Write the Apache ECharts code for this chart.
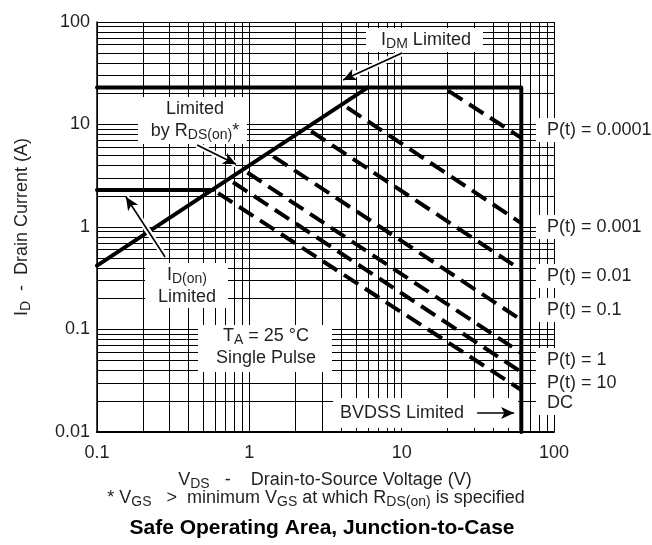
<!DOCTYPE html>
<html><head><meta charset="utf-8">
<script src="https://cdn.jsdelivr.net/npm/echarts@6/dist/echarts.min.js"></script>
<style>html,body{margin:0;padding:0;background:#fff}#c{width:652px;height:545px}</style>
</head><body><div id="c"></div>
<script>
// ---- tick labels & grid values ----
const xTickLabels = ['0.1', '1', '10', '100'];
const yTickLabels = ['0.01', '0.1', '1', '10', '100'];
const xGridValues = [0.1, 0.2, 0.3, 0.4, 0.5, 0.6, 0.7, 0.8, 0.9, 1, 2, 3, 4, 5, 6, 7, 8, 9, 10, 20, 30, 40, 50, 60, 70, 80, 90, 100];
const yGridValues = [0.01, 0.02, 0.03, 0.04, 0.05, 0.06, 0.07, 0.08, 0.09, 0.1, 0.2, 0.3, 0.4, 0.5, 0.6, 0.7, 0.8, 0.9, 1, 2, 3, 4, 5, 6, 7, 8, 9, 10, 20, 30, 40, 50, 60, 70, 80, 90, 100];

// ---- limit lines (V, A) ----
const idmBvdssLimit = [[0.1, 23], [61, 23], [61, 0.01]];
const idOnLimit = [[0.1, 2.3], [0.578, 2.3]];
const rdsOnLimit = [[0.1, 0.42], [6.0, 23]];

// ---- pulse lines (V, A) ----
const pulse0001 = [[18.7, 23], [61, 7.4]];
const pulse001 = [[4.06, 15.8], [61, 1.09]];
const pulse01 = [[2.36, 9.25], [61, 0.38]];
const pulse1 = [[1.33, 5.27], [61, 0.124]];
const pulse1s = [[0.90, 3.66], [61, 0.059]];
const pulse10s = [[0.725, 2.94], [61, 0.0385]];
const pulseDC = [[0.578, 2.3], [61, 0.0257]];

// ---- annotation arrows (data coords) ----
const idmArrow = [[10.06, 49.9], [4.12, 27.2]];
const rdsArrow = [[0.454, 6.3], [0.818, 4.1]];
const idOnArrow = [[0.28, 0.51], [0.155, 1.96]];
const bvdssArrow = [[31.3, 0.0153], [54.7, 0.0153]];

const FONT = '"Liberation Sans", Arial, Helvetica, sans-serif';
const TXT = '#231f20';
const chart = echarts.init(document.getElementById('c'));

function pickLabel(list, v) {
  const t = list.find(s => Math.abs(Math.log10(parseFloat(s)) - Math.log10(v)) < 1e-6);
  return t || '';
}
function solid(name, data) {
  return { name, type: 'line', data, symbol: 'none', z: 3, silent: true, animation: false,
    lineStyle: { color: '#000', width: 4, join: 'round', cap: 'round' } };
}
function dashed(name, data) {
  return { name, type: 'line', data, symbol: 'none', z: 3, silent: true, animation: false,
    lineStyle: { color: '#000', width: 4, type: [17, 8], dashOffset: 19, cap: 'butt' } };
}
function arrowLines(z, color, width, withHead) {
  return { type: 'line', data: [], silent: true, animation: false,
    markLine: { z, silent: true, animation: false,
      symbol: withHead ? ['none', 'arrow'] : ['none', 'none'], symbolSize: [9, 13],
      label: { show: false },
      lineStyle: { color, width, type: 'solid', opacity: 1 },
      itemStyle: { color },
      emphasis: { disabled: true },
      data: [idmArrow, rdsArrow, idOnArrow, bvdssArrow].map(a => [{ coord: a[0] }, { coord: a[1] }])
    } };
}

const rich = {
  n: { fontSize: 18, fontFamily: FONT, fill: TXT, lineHeight: 22 },
  s: { fontSize: 14, fontFamily: FONT, fill: TXT, lineHeight: 10, verticalAlign: 'bottom' }
};
function txt(text, x, y, align, extra) {
  return Object.assign({ type: 'text', x, y, z: 101, silent: true,
    style: { text, rich, align: align || 'center', verticalAlign: 'middle', font: '18px ' + FONT, fill: TXT } }, extra || {});
}
function box(x, y, w, h) {
  return { type: 'rect', z: 5, silent: true, shape: { x, y, width: w, height: h }, style: { fill: '#fff' } };
}

const option = {
  animation: false,
  backgroundColor: '#fff',
  grid: { left: 97, right: 98, top: 22, bottom: 113 },
  xAxis: { type: 'log', logBase: 10, min: 0.1, max: 100,
    axisLine: { show: true, lineStyle: { color: '#000', width: 2 } },
    axisTick: { show: false }, splitLine: { show: false },
    axisLabel: { margin: 12, fontSize: 18, fontFamily: FONT, color: TXT, formatter: v => pickLabel(xTickLabels, v) } },
  yAxis: { type: 'log', logBase: 10, min: 0.01, max: 100,
    axisLine: { show: true, lineStyle: { color: '#000', width: 1.5 } },
    axisTick: { show: false }, splitLine: { show: false },
    axisLabel: { margin: 7, fontSize: 18, fontFamily: FONT, color: TXT, formatter: v => pickLabel(yTickLabels, v) } },
  series: [
    { type: 'line', data: [], silent: true, animation: false,
      markLine: { z: 1, silent: true, animation: false, symbol: ['none', 'none'], label: { show: false },
        lineStyle: { color: '#000', width: 1, type: 'solid', opacity: 1 }, emphasis: { disabled: true },
        data: xGridValues.map(v => ({ xAxis: v })).concat(yGridValues.map(v => ({ yAxis: v }))) } },
    solid('IDM / BVDSS', idmBvdssLimit),
    solid('ID(on)', idOnLimit),
    solid('RDS(on)', rdsOnLimit),
    dashed('P(t)=0.0001', pulse0001),
    dashed('P(t)=0.001', pulse001),
    dashed('P(t)=0.01', pulse01),
    dashed('P(t)=0.1', pulse1),
    dashed('P(t)=1', pulse1s),
    dashed('P(t)=10', pulse10s),
    dashed('DC', pulseDC),
    arrowLines(6, '#fff', 6, false),
    arrowLines(7, '#000', 1.6, true)
  ],
  graphic: [
    box(366, 28, 117, 24),
    txt('{n|I}{s|DM}{n| Limited}', 426, 40),
    box(138, 97, 109, 47),
    txt('{n|Limited}\n{n|by R}{s|DS(on)}{n|*}', 195, 120),
    box(145, 263, 83, 45),
    txt('{n|I}{s|D(on)}\n{n|Limited}', 187, 286),
    box(198, 325, 134, 47),
    txt('{n|T}{s|A}{n| = 25 °C}\n{n|Single Pulse}', 266, 347),
    box(333, 398, 185, 30),
    txt('{n|BVDSS Limited}', 340, 413, 'left'),
    box(536, 118, 116, 24), txt('{n|P(t) = 0.0001}', 547, 130, 'left'),
    box(536, 215, 116, 24), txt('{n|P(t) = 0.001}', 547, 227, 'left'),
    box(536, 264, 116, 24), txt('{n|P(t) = 0.01}', 547, 276, 'left'),
    box(536, 298, 116, 24), txt('{n|P(t) = 0.1}', 547, 310, 'left'),
    box(536, 348, 116, 67),
    txt('{n|P(t) = 1}', 547, 360, 'left'),
    txt('{n|P(t) = 10}', 547, 383, 'left'),
    txt('{n|DC}', 547, 403, 'left'),
    txt('{n|I}{s|D}{n|  -  Drain Current (A)}', 22, 227, 'center', { rotation: Math.PI / 2 }),
    txt('{n|V}{s|DS}{n|   -    Drain-to-Source Voltage (V)}', 325, 480),
    txt('{n|* V}{s|GS}{n|   >  minimum V}{s|GS}{n| at which R}{s|DS(on)}{n| is specified}', 316, 498),
    { type: 'text', x: 322, y: 528, z: 101, silent: true,
      style: { text: 'Safe Operating Area, Junction-to-Case', align: 'center', verticalAlign: 'middle',
        font: 'bold 21px ' + FONT, fill: '#000' } }
  ]
};
chart.setOption(option);
</script></body></html>
